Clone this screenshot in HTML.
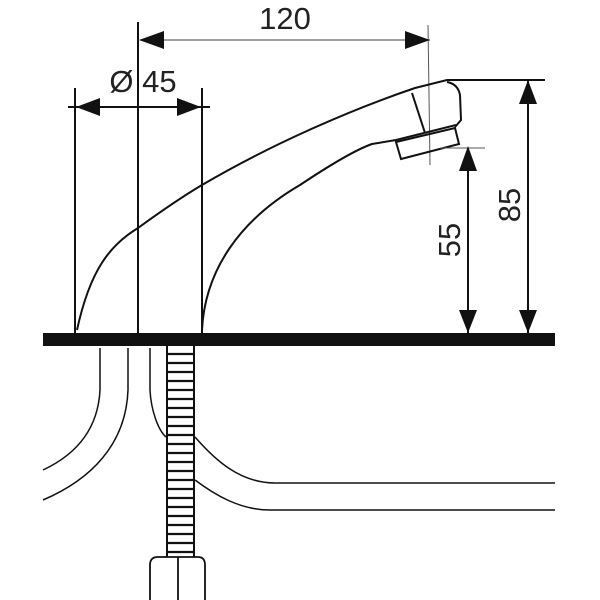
<!DOCTYPE html>
<html><head><style>body{margin:0;background:#fff}svg{display:block}</style></head><body>
<svg width="600" height="600" viewBox="0 0 600 600" xmlns="http://www.w3.org/2000/svg">
<g fill="none" stroke="#111" stroke-width="2">
<!-- vertical extension lines -->
<line x1="75" y1="88" x2="75" y2="333"/>
<line x1="138" y1="22" x2="138" y2="333"/>
<line x1="202" y1="88" x2="202" y2="333"/>
<line x1="428" y1="25" x2="430" y2="165" stroke-width="1" stroke="#555"/>
<!-- 120 dim -->
<line x1="140" y1="40" x2="430" y2="40" stroke-width="1.2" stroke="#666"/>
<!-- 45 dim -->
<line x1="68" y1="107" x2="210" y2="107"/>
<!-- spout -->
<path d="M77,330 C90,270 110,245 138,228 C160,212 180,198 202,185 C270,145 350,110 415,88 L447,80 L545,80" />
<path d="M202,330 C205,270 240,220 300,185 C330,165 355,150 372,144 L396,140 L456,125"/>
<path d="M447,82 Q458,84 460,95 L461,120 L455,127"/>
<line x1="412" y1="93" x2="425" y2="133"/>
<path d="M396,142 L455,128 L459,144 L401,159 Z"/>
<line x1="440" y1="148" x2="485" y2="148" stroke-width="1" stroke="#555"/>
<!-- 55 / 85 -->
<line x1="468" y1="150" x2="468" y2="333"/>
<line x1="528" y1="80" x2="528" y2="333"/>
<!-- hoses -->
<path d="M100,348 L100,390 C98,430 75,455 43,470" stroke-width="1.5"/>
<path d="M128,348 L128,390 C126,445 90,480 43,500" stroke-width="1.5"/>
<path d="M150,348 L150,390 C151,410 158,430 166,437" stroke-width="1.5"/>
<path d="M195,437 C215,460 240,483 275,483 L555,483" stroke-width="1.5"/>
<path d="M195,480 C215,495 240,510 270,510 L555,510" stroke-width="1.5"/>
<!-- threaded pipe -->
<line x1="167" y1="346" x2="167" y2="557"/>
<line x1="194" y1="346" x2="194" y2="557"/>
<path d="M150,600 L150,565 Q150,557 158,557 L198,557 Q205,557 205,565 L205,600 M178,557 L178,600" stroke-width="1.8"/>
</g>
<g stroke="#111" stroke-width="2.2">
<line x1="167" y1="354" x2="194" y2="354"/><line x1="167" y1="363" x2="194" y2="363"/><line x1="167" y1="372" x2="194" y2="372"/><line x1="167" y1="381" x2="194" y2="381"/><line x1="167" y1="390" x2="194" y2="390"/><line x1="167" y1="399" x2="194" y2="399"/><line x1="167" y1="408" x2="194" y2="408"/><line x1="167" y1="417" x2="194" y2="417"/><line x1="167" y1="426" x2="194" y2="426"/><line x1="167" y1="435" x2="194" y2="435"/><line x1="167" y1="444" x2="194" y2="444"/><line x1="167" y1="453" x2="194" y2="453"/><line x1="167" y1="462" x2="194" y2="462"/><line x1="167" y1="471" x2="194" y2="471"/><line x1="167" y1="480" x2="194" y2="480"/><line x1="167" y1="489" x2="194" y2="489"/><line x1="167" y1="498" x2="194" y2="498"/><line x1="167" y1="507" x2="194" y2="507"/><line x1="167" y1="516" x2="194" y2="516"/><line x1="167" y1="525" x2="194" y2="525"/><line x1="167" y1="534" x2="194" y2="534"/><line x1="167" y1="543" x2="194" y2="543"/><line x1="167" y1="552" x2="194" y2="552"/>
</g>
<!-- ground bar -->
<rect x="43" y="333" width="512" height="13" fill="#111"/>
<!-- arrowheads -->
<g fill="#111">
<polygon points="139,40 164,31 164,49"/>
<polygon points="430,40 405,31 405,49"/>
<polygon points="76,107 100,98 100,116"/>
<polygon points="201,107 177,98 177,116"/>
<polygon points="468,146 459,171 477,171"/>
<polygon points="468,333 459,310 477,310"/>
<polygon points="528,80 519,104 537,104"/>
<polygon points="528,333 519,310 537,310"/>
</g>
<g font-family="Liberation Sans, sans-serif" font-size="31" fill="#222">
<text x="285" y="29" text-anchor="middle">120</text>
<text x="143" y="92" text-anchor="middle">Ø 45</text>
<text transform="translate(460,240) rotate(-90)" text-anchor="middle">55</text>
<text transform="translate(520,205) rotate(-90)" text-anchor="middle">85</text>
</g>
</svg>
</body></html>
